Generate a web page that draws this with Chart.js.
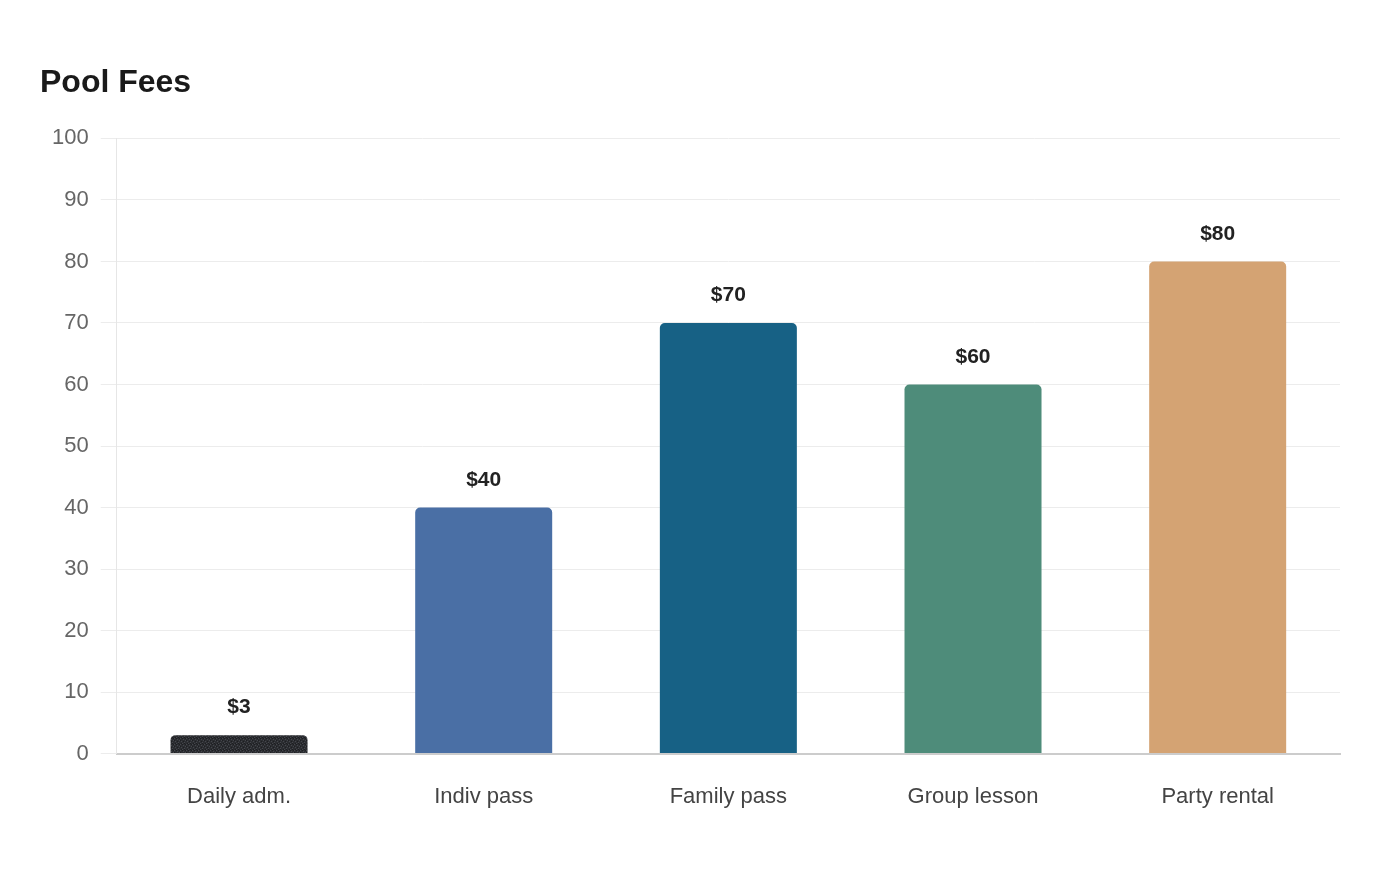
<!DOCTYPE html>
<html>
<head>
<meta charset="utf-8">
<script src="https://cdn.jsdelivr.net/npm/chart.js@4/dist/chart.umd.min.js"></script>
<style>
  html, body { margin: 0; padding: 0; background: #fff; }
  #wrap { width: 1400px; height: 880px; }
</style>
</head>
<body>
<div id="wrap"><canvas id="myChart"></canvas></div>
<script>
const categories = ['Daily adm.', 'Indiv pass', 'Family pass', 'Group lesson', 'Party rental'];
const fees = [3, 40, 70, 60, 80];
const barColors = ['#2b2d31', '#4a6fa5', '#176185', '#4e8c7a', '#d4a373'];

// speckled texture for the first (dark) bar
function makeTexture(base) {
    const c = document.createElement('canvas');
    c.width = 6; c.height = 6;
    const g = c.getContext('2d');
    g.fillStyle = base;
    g.fillRect(0, 0, 6, 6);
    g.fillStyle = '#45474d';
    [[0, 0], [3, 1], [1, 3], [4, 4], [5, 2], [2, 5]].forEach(p => g.fillRect(p[0], p[1], 1, 1));
    g.fillStyle = '#1d1e21';
    [[2, 0], [5, 0], [0, 2], [3, 3], [1, 5], [4, 5]].forEach(p => g.fillRect(p[0], p[1], 1, 1));
    return g.createPattern(c, 'repeat');
}

const fills = barColors.map((c, i) => i === 0 ? makeTexture(c) : c);

// value labels above each bar
const valueLabels = {
    id: 'valueLabels',
    afterDatasetsDraw(chart) {
        const ctx = chart.ctx;
        const meta = chart.getDatasetMeta(0);
        ctx.save();
        ctx.font = 'bold 21px "Liberation Sans", Arial, sans-serif';
        ctx.fillStyle = '#222';
        ctx.textAlign = 'center';
        ctx.textBaseline = 'bottom';
        meta.data.forEach((bar, i) => {
            ctx.fillText('$' + fees[i], bar.x, bar.y - 17);
        });
        ctx.restore();
    }
};

const ctx = document.getElementById('myChart').getContext('2d');
const myChart = new Chart(ctx, {
    type: 'bar',
    data: {
        labels: categories,
        datasets: [{
            data: fees,
            backgroundColor: fills,
            borderRadius: { topLeft: 5, topRight: 5 },
            borderSkipped: 'bottom',
            barPercentage: 0.56,
            categoryPercentage: 1
        }]
    },
    options: {
        responsive: true,
        maintainAspectRatio: false,
        animation: false,
        layout: { padding: { left: 40, right: 60, top: 64, bottom: 48 } },
        plugins: {
            legend: { display: false },
            tooltip: { enabled: false },
            title: {
                display: true,
                text: 'Pool Fees',
                align: 'start',
                color: '#1a1a1a',
                font: { family: '"Liberation Sans", Arial, sans-serif', size: 32, weight: 'bold' },
                padding: { top: 0, bottom: 36 }
            }
        },
        scales: {
            x: {
                grid: { display: false },
                border: { color: '#cccccc', width: 2 },
                ticks: {
                    color: '#444',
                    padding: 22,
                    font: { family: '"Liberation Sans", Arial, sans-serif', size: 22 }
                }
            },
            y: {
                min: 0,
                max: 100,
                ticks: {
                    stepSize: 10,
                    color: '#666',
                    padding: 12,
                    font: { family: '"Liberation Sans", Arial, sans-serif', size: 22 }
                },
                grid: { color: '#ececec', tickLength: 16 },
                border: { color: '#e6e6e6' }
            }
        }
    },
    plugins: [valueLabels]
});
</script>
</body>
</html>
